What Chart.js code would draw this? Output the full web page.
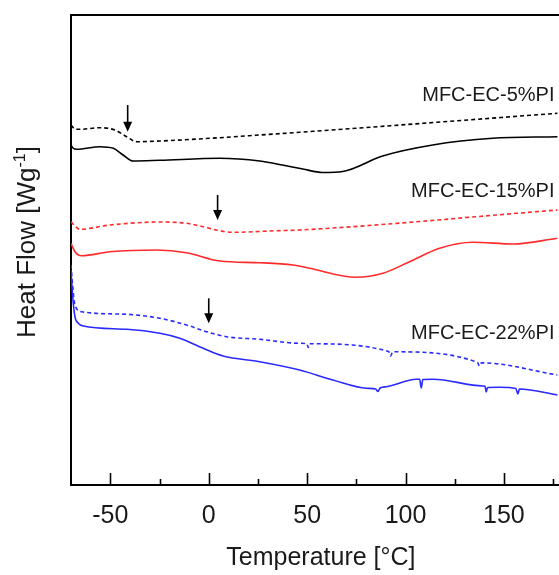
<!DOCTYPE html>
<html>
<head>
<meta charset="utf-8">
<script src="https://cdn.jsdelivr.net/npm/chart.js@4.4.1/dist/chart.umd.min.js"></script>
<style>
  html, body { margin: 0; padding: 0; background: #fff; }
  canvas { display: block; }
</style>
</head>
<body>
<canvas id="chart" width="559" height="575"></canvas>
<script>
// heat flow in arbitrary units (curves shifted for clarity), temperature in °C
const t5Dash = [-70, -68.0, -65.4, -55.3, -47.7, -41.7, -36.6, -24.8, 0.6, 25.9, 46.2, 177.2]
const hf5Dash = [360, 356, 355.7, 357.3, 355, 348.3, 343.3, 344, 346.7, 350, 352.7, 371.7]

const t5Solid = [-70, -69, -67.1, -55.3, -48.5, -43.5, -38.4, -24.8, 5.6, 25.9, 38.7, 47.8, 57.9, 68.1, 88.4, 113.8, 144.2, 177.2]
const hf5Solid = [340, 337, 335.7, 338.3, 336.7, 330, 324, 324.7, 326.7, 324, 319.5, 316, 312.5, 313.5, 329, 340, 346.7, 348.3]

const t15Dash = [-70, -68.0, -65.4, -50.2, -24.8, -11.3, -2.8, 5.6, 12.4, 34.4, 46.2, 177.2]
const hf15Dash = [263.3, 259, 255.7, 260, 263, 261.7, 258.3, 254.3, 252.7, 254.3, 255, 275]

const t15Solid = [-70, -68, -64.6, -50.2, -26.5, -11.3, 5.6, 25.9, 42.8, 51.3, 75, 88.5, 102.1, 117.3, 134.2, 154.5, 177.2]
const hf15Solid = [241.7, 233.3, 229.3, 233.3, 235, 232.3, 224, 222.3, 220, 216.7, 207.7, 211.7, 223.3, 236.7, 242.7, 241, 246.7]

const t22Dash = [-70, -69.2, -68.0, -64.6, -41.7, -24.8, -11.3, -1.1, 9.0, 25.9, 46.2, 49.8, 50.6, 51.3, 91.4, 92.4, 93.5, 136.6, 137.6, 138.6, 177.2]
const hf22Dash = [220, 200, 180, 173.3, 170.7, 166.7, 160, 153.3, 148.3, 145.7, 141.7, 141.4, 137.5, 141.2, 133.5, 129, 133.2, 122.5, 119, 122.2, 110]

const t22Solid = [-70, -69.2, -68, -66.4, -63.8, -41.7, -24.8, -14.7, -2.8, 7.3, 25.9, 46.2, 63.1, 80.1, 84.8, 86.0, 87.1, 90.3, 105.5, 107.2, 108.0, 108.8, 113.9, 139.3, 140.4, 141.0, 141.7, 147.8, 156.1, 157.1, 157.9, 177.2]
const hf22Solid = [215, 190, 168.3, 162, 159, 155.7, 151.7, 146.7, 136.7, 129, 123.3, 115, 105, 96.7, 96, 93.5, 97, 98.3, 105.7, 105.7, 97, 105.5, 105.7, 99, 98.7, 93, 97.5, 97.7, 96.5, 91, 96, 90]

// glass transition markers
const arrowT = [-41.2, 4.5, 0]
const arrowTop = [380, 290, 186.7]
const arrowTip = [353.3, 265, 161.7]

const sampleNames = ['MFC-EC-5%PI', 'MFC-EC-15%PI', 'MFC-EC-22%PI']
const nameY = [390, 294, 152]
const nameT = 175.7

const xTicks = [-50, 0, 50, 100, 150]
const xTitle = 'Temperature [°C]'
const xTitleCenterT = 57 // the frame is cut off on the right, title sits on the full axis

const pts = (xs, ys) => xs.map((x, i) => ({ x: x, y: ys[i] }))

const black = '#000000'
const red = '#ff2a2a'
const blue = '#2a2aff'
const font = '"Liberation Sans", Arial, sans-serif'

const makeSet = (xs, ys, color, dashed) => ({
  data: pts(xs, ys),
  borderColor: color,
  borderWidth: 1.6,
  borderDash: dashed ? [4, 3] : [],
  pointRadius: 0,
  fill: false,
  cubicInterpolationMode: 'monotone'
})

// arrows, sample names, inward ticks and the axis titles
const extras = {
  id: 'extras',
  afterDatasetsDraw(chart) {
    const ctx = chart.ctx
    const x = chart.scales.x
    const y = chart.scales.y
    const area = chart.chartArea
    ctx.save()

    // inward tick marks
    ctx.strokeStyle = '#000'
    ctx.lineWidth = 1.6
    for (let v = -50; v <= 175; v += 25) {
      const px = Math.round(x.getPixelForValue(v)) + 0.5
      const len = v % 50 === 0 ? 12 : 6
      ctx.beginPath()
      ctx.moveTo(px, area.bottom)
      ctx.lineTo(px, area.bottom - len)
      ctx.stroke()
    }

    // arrows
    ctx.fillStyle = '#000'
    arrowT.forEach((t, i) => {
      const px = x.getPixelForValue(t)
      const top = y.getPixelForValue(arrowTop[i])
      const tip = y.getPixelForValue(arrowTip[i])
      ctx.lineWidth = 1.6
      ctx.beginPath()
      ctx.moveTo(px, top)
      ctx.lineTo(px, tip - 8)
      ctx.stroke()
      ctx.beginPath()
      ctx.moveTo(px - 4.5, tip - 10)
      ctx.lineTo(px + 4.5, tip - 10)
      ctx.lineTo(px, tip)
      ctx.closePath()
      ctx.fill()
    })

    // sample names
    ctx.font = '20px ' + font
    ctx.fillStyle = '#1a1a1a'
    ctx.textAlign = 'right'
    ctx.textBaseline = 'middle'
    sampleNames.forEach((name, i) => {
      ctx.fillText(name, x.getPixelForValue(nameT), y.getPixelForValue(nameY[i]))
    })

    // x axis title
    ctx.font = '25px ' + font
    ctx.textAlign = 'center'
    ctx.fillText(xTitle, x.getPixelForValue(xTitleCenterT), area.bottom + 73)

    // y axis title with superscript
    const main = '26px ' + font
    const sup = '16px ' + font
    ctx.font = main
    const w1 = ctx.measureText('Heat Flow [Wg').width
    const w3 = ctx.measureText(']').width
    ctx.font = sup
    const w2 = ctx.measureText('-1').width
    const total = w1 + w2 + w3
    ctx.translate(35, (area.top + area.bottom) / 2 - 8)
    ctx.rotate(-Math.PI / 2)
    ctx.textAlign = 'left'
    ctx.textBaseline = 'alphabetic'
    let cx = -total / 2
    ctx.font = main
    ctx.fillText('Heat Flow [Wg', cx, 0)
    cx += w1
    ctx.font = sup
    ctx.fillText('-1', cx, -10)
    cx += w2
    ctx.font = main
    ctx.fillText(']', cx, 0)
    ctx.restore()
  }
}

new Chart('chart', {
  type: 'line',
  data: {
    datasets: [
      makeSet(t5Dash, hf5Dash, black, true),
      makeSet(t5Solid, hf5Solid, black, false),
      makeSet(t15Dash, hf15Dash, red, true),
      makeSet(t15Solid, hf15Solid, red, false),
      makeSet(t22Dash, hf22Dash, blue, true),
      makeSet(t22Solid, hf22Solid, blue, false)
    ]
  },
  options: {
    responsive: false,
    animation: false,
    devicePixelRatio: 1,
    layout: { padding: { left: 71, top: 15, right: 0, bottom: 28 } },
    plugins: { legend: { display: false }, tooltip: { enabled: false } },
    scales: {
      x: {
        type: 'linear',
        min: -70,
        max: 178,
        afterBuildTicks: (axis) => { axis.ticks = xTicks.map(v => ({ value: v })) },
        grid: { display: false, drawTicks: false },
        border: { display: true, color: '#000', width: 2 },
        ticks: {
          padding: 16,
          color: '#1a1a1a',
          font: { family: font, size: 25, lineHeight: 1.2 },
          maxRotation: 0,
          autoSkip: false
        }
      },
      xTop: {
        type: 'linear',
        position: 'top',
        min: -70,
        max: 178,
        grid: { display: false, drawTicks: false },
        border: { display: true, color: '#000', width: 2 },
        ticks: { display: false }
      },
      y: {
        min: 0,
        max: 470,
        grid: { display: false, drawTicks: false },
        border: { display: true, color: '#000', width: 2 },
        ticks: { display: false }
      }
    }
  },
  plugins: [extras]
})
</script>
</body>
</html>
